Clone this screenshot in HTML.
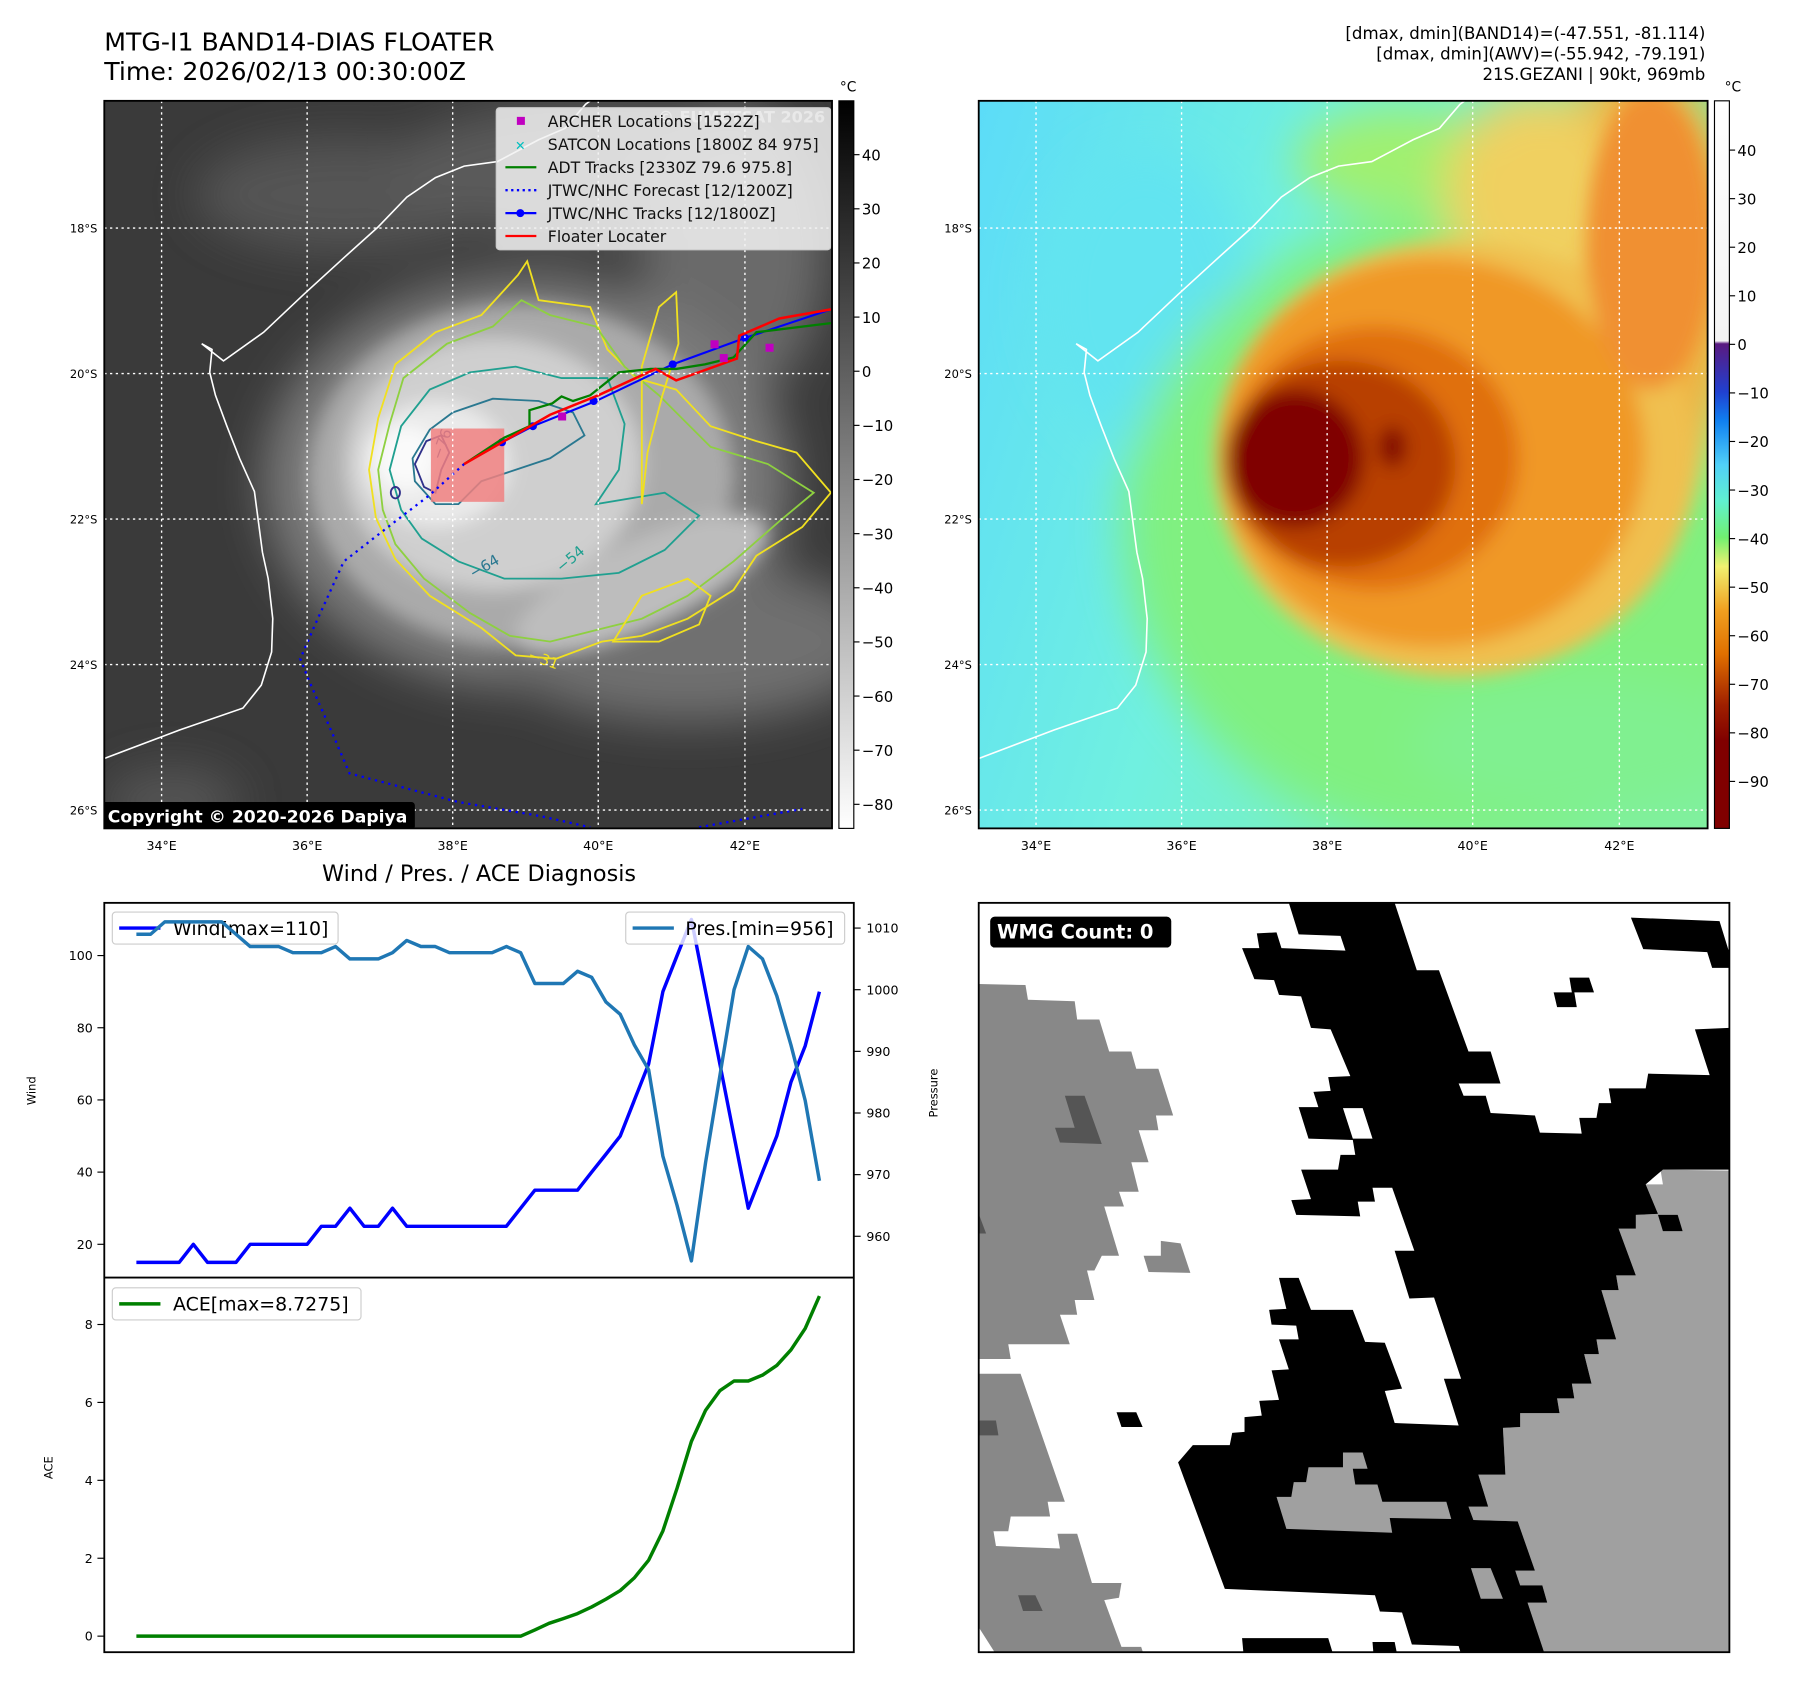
<!DOCTYPE html>
<html><head><meta charset="utf-8"><style>
html,body{margin:0;padding:0;background:#fff;}
svg{display:block;font-family:"DejaVu Sans","Liberation Sans",sans-serif;}
</style></head><body>
<svg id="fig" width="1797" height="1690" viewBox="0 0 1568 1475" preserveAspectRatio="none" xmlns="http://www.w3.org/2000/svg">
<defs>
<filter id="b8" x="-50%" y="-50%" width="200%" height="200%"><feGaussianBlur stdDeviation="8"/></filter>
<filter id="b20" x="-50%" y="-50%" width="200%" height="200%"><feGaussianBlur stdDeviation="20"/></filter>
<clipPath id="clipL"><rect x="91" y="88" width="635" height="635"/></clipPath>
<clipPath id="clipR"><rect x="854" y="88" width="636" height="635"/></clipPath>
<clipPath id="clipB"><rect x="854" y="788" width="655" height="654"/></clipPath>
<linearGradient id="cbGray" x1="0" y1="0" x2="0" y2="1"><stop offset="0" stop-color="#000"/><stop offset="1" stop-color="#fff"/></linearGradient>
<linearGradient id="cbJet" x1="0" y1="0" x2="0" y2="1">
<stop offset="0" stop-color="#ffffff"/><stop offset="0.33" stop-color="#f4f4f4"/>
<stop offset="0.334" stop-color="#5a1a80"/><stop offset="0.40" stop-color="#2040d0"/>
<stop offset="0.44" stop-color="#1080f0"/><stop offset="0.50" stop-color="#50d0f8"/>
<stop offset="0.55" stop-color="#60f0d0"/><stop offset="0.60" stop-color="#70f070"/>
<stop offset="0.64" stop-color="#f0f070"/><stop offset="0.70" stop-color="#f0a020"/>
<stop offset="0.76" stop-color="#e07000"/><stop offset="0.83" stop-color="#a02000"/>
<stop offset="0.88" stop-color="#800000"/><stop offset="1" stop-color="#800000"/></linearGradient>
<linearGradient id="bgR" x1="0" y1="0" x2="1" y2="0.3"><stop offset="0" stop-color="#5cdcf8"/><stop offset="0.45" stop-color="#70f0e0"/><stop offset="1" stop-color="#80f0a0"/></linearGradient>
<path id="coast" d="M91,662 L157,637 L212,618 L228,598 L237,569 L238,540 L234,505 L229,482 L222,429 L209,400 L198,372 L188,345 L183,325 L185,305 L176,300 L195,315 L230,290 L265,257 L300,225 L330,198 L355,172 L380,155 L405,145 L434,141 L470,122 L493,112 L511,91 L515,88" fill="none" stroke="#fff" stroke-width="1.4"/>
</defs>

<text x="91" y="44" font-size="22">MTG-I1 BAND14-DIAS FLOATER</text>
<text x="91" y="70" font-size="22">Time: 2026/02/13 00:30:00Z</text>
<text x="1488" y="34" font-size="14.5" text-anchor="end">[dmax, dmin](BAND14)=(-47.551, -81.114)</text>
<text x="1488" y="52" font-size="14.5" text-anchor="end">[dmax, dmin](AWV)=(-55.942, -79.191)</text>
<text x="1488" y="70" font-size="14.5" text-anchor="end">21S.GEZANI | 90kt, 969mb</text>

<!-- LEFT MAP -->
<g clip-path="url(#clipL)">
<rect x="91" y="88" width="635" height="635" fill="#3a3a3a"/>
<g filter="url(#b20)">
<ellipse cx="300" cy="170" rx="130" ry="50" fill="#555"/>
<ellipse cx="520" cy="150" rx="180" ry="60" fill="#5a5a5a"/>
<ellipse cx="640" cy="220" rx="80" ry="130" fill="#6a6a6a"/>
<ellipse cx="460" cy="420" rx="230" ry="180" fill="#7a7a7a"/>
<ellipse cx="600" cy="560" rx="170" ry="70" fill="#707070"/>
<ellipse cx="150" cy="700" rx="60" ry="30" fill="#555"/>
</g>
<g filter="url(#b8)">
<ellipse cx="455" cy="415" rx="185" ry="150" fill="#aaaaaa"/>
<ellipse cx="430" cy="405" rx="130" ry="110" fill="#cfcfcf"/>
<ellipse cx="380" cy="405" rx="65" ry="55" fill="#eaeaea"/>
<ellipse cx="355" cy="400" rx="28" ry="28" fill="#fafafa"/>
<ellipse cx="560" cy="510" rx="120" ry="38" fill="#bdbdbd" transform="rotate(-25 560 510)"/>
</g>
<g fill="none" stroke-width="1.6">
<path d="M322,410 L330,365 L345,318 L380,290 L420,275 L452,240 L460,228 L470,262 L515,268 L530,305 L555,330 L590,340 L620,372 L660,385 L695,395 L725,430 L700,460 L660,485 L640,515 L600,540 L560,555 L525,560 L485,575 L450,572 L420,548 L375,520 L345,488 L328,452 Z" stroke="#f0e020"/>
<path d="M330,410 L340,370 L352,330 L390,300 L430,285 L455,262 L480,275 L520,285 L545,320 L575,345 L620,390 L670,405 L710,430 L680,455 L640,490 L600,520 L560,540 L520,550 L480,560 L445,555 L410,535 L370,505 L345,475 L334,445 Z" stroke="#8ed040"/>
<path d="M340,410 L350,372 L375,340 L410,325 L450,320 L490,330 L530,330 L545,370 L540,410 L520,440 L580,430 L610,450 L580,480 L540,500 L490,505 L440,505 L400,490 L368,470 L350,445 Z" stroke="#20a090"/>
<path d="M360,400 L375,375 L395,360 L430,348 L470,350 L500,360 L510,380 L480,400 L450,410 L420,420 L400,440 L380,440 L362,420 Z" stroke="#2a7890"/>
<path d="M362,405 L372,385 L385,380 L392,395 L385,410 L380,430 L370,425 Z" stroke="#30308a"/>
<ellipse cx="345" cy="430" rx="4" ry="5" stroke="#30308a"/>
<path d="M560,320 L575,268 L590,255 L592,300 L578,345 L565,395 L560,440 Z" stroke="#f0e020"/>
<path d="M535,560 L560,520 L600,505 L620,520 L610,545 L575,560 Z" stroke="#f0e020"/>
</g>
<text x="385" y="402" font-size="13" fill="#2a4090" transform="rotate(-70 385 402)">−76</text>
<text x="413" y="505" font-size="13" fill="#2a7890" transform="rotate(-30 413 505)">−64</text>
<text x="490" y="500" font-size="13" fill="#20a090" transform="rotate(-40 490 500)">−54</text>
<text x="460" y="575" font-size="13" fill="#f0e020" transform="rotate(20 460 575)">−31</text>
<rect x="376" y="374" width="64" height="64" fill="#f08080" opacity="0.85"/>
<path d="M405,405 L375,432 L345,455 L300,490 L275,545 L262,575 L270,595 L290,640 L305,675 L400,700 L470,712 L515,722 M610,722 L700,706" fill="none" stroke="#0000ff" stroke-width="2" stroke-dasharray="2,4"/>
<path d="M405,405 L440,385 L465,372 L520,350 L587,318 L650,295 L725,270" fill="none" stroke="#0000ff" stroke-width="1.8"/>
<g fill="#0000ff"><circle cx="438" cy="386" r="3.5"/><circle cx="465" cy="372" r="3.5"/><circle cx="518" cy="350" r="3.5"/><circle cx="587" cy="318" r="3.5"/><circle cx="650" cy="295" r="3.5"/></g>
<path d="M405,405 L440,382 L462,372 L462,358 L482,352 L490,346 L500,350 L515,345 L540,325 L568,322 L590,322 L615,318 L640,312 L660,290 L725,282" fill="none" stroke="#008000" stroke-width="2"/>
<path d="M405,405 L480,362 L522,345 L572,322 L590,332 L643,313 L645,293 L680,278 L725,270" fill="none" stroke="#ff0000" stroke-width="2.2"/>
<g fill="#c000c0"><rect x="620" y="297" width="7" height="7"/><rect x="628" y="309" width="7" height="7"/><rect x="668" y="300" width="7" height="7"/><rect x="487" y="360" width="7" height="7"/></g>
<use href="#coast"/>
<g stroke="#fff" stroke-width="1.2" stroke-dasharray="2,3">
<line x1="141" y1="88" x2="141" y2="723"/><line x1="268" y1="88" x2="268" y2="723"/><line x1="395" y1="88" x2="395" y2="723"/><line x1="522" y1="88" x2="522" y2="723"/><line x1="650" y1="88" x2="650" y2="723"/>
<line x1="91" y1="199" x2="726" y2="199"/><line x1="91" y1="326" x2="726" y2="326"/><line x1="91" y1="453" x2="726" y2="453"/><line x1="91" y1="580" x2="726" y2="580"/><line x1="91" y1="707" x2="726" y2="707"/>
</g>
<text x="720" y="107" font-size="14" font-weight="bold" fill="#fff" fill-opacity="0.6" text-anchor="end">© EUMETSAT 2026</text>
<g>
<rect x="433" y="94" width="292" height="124" rx="3" fill="#f2f2f2" fill-opacity="0.85" stroke="#ccc"/>
<rect x="451" y="102" width="7" height="7" fill="#c000c0"/>
<text x="454" y="131" font-size="11" fill="#00c0c0" text-anchor="middle" font-weight="bold">✕</text>
<line x1="441" y1="146" x2="468" y2="146" stroke="#008000" stroke-width="2"/>
<line x1="441" y1="166" x2="468" y2="166" stroke="#0000ff" stroke-width="2" stroke-dasharray="2,3"/>
<line x1="441" y1="186" x2="468" y2="186" stroke="#0000ff" stroke-width="2"/><circle cx="454" cy="186" r="3.5" fill="#0000ff"/>
<line x1="441" y1="206" x2="468" y2="206" stroke="#ff0000" stroke-width="2"/>
<g font-size="13.7" fill="#111">
<text x="478" y="111">ARCHER Locations [1522Z]</text>
<text x="478" y="131">SATCON Locations [1800Z 84 975]</text>
<text x="478" y="151">ADT Tracks [2330Z 79.6 975.8]</text>
<text x="478" y="171">JTWC/NHC Forecast [12/1200Z]</text>
<text x="478" y="191">JTWC/NHC Tracks [12/1800Z]</text>
<text x="478" y="211">Floater Locater</text>
</g></g>
<rect x="89" y="700" width="273" height="24" rx="3" fill="#000"/>
<text x="94" y="718" font-size="15" font-weight="bold" fill="#fff">Copyright © 2020-2026 Dapiya</text>
</g>
<rect x="91" y="88" width="635" height="635" fill="none" stroke="#000" stroke-width="1.6"/>
<g font-size="10" text-anchor="end">
<text x="85" y="203">18°S</text><text x="85" y="330">20°S</text><text x="85" y="457">22°S</text><text x="85" y="584">24°S</text><text x="85" y="711">26°S</text></g>
<g font-size="11" text-anchor="middle">
<text x="141" y="742">34°E</text><text x="268" y="742">36°E</text><text x="395" y="742">38°E</text><text x="522" y="742">40°E</text><text x="650" y="742">42°E</text></g>
<rect x="732" y="88" width="13" height="635" fill="url(#cbGray)" stroke="#000"/>
<text x="740" y="80" font-size="12" text-anchor="middle">°C</text>
<g id="cbLticks" font-size="13"></g>

<!-- RIGHT MAP -->
<g clip-path="url(#clipR)">
<rect x="854" y="88" width="636" height="635" fill="url(#bgR)"/>
<g filter="url(#b20)">
<ellipse cx="1000" cy="260" rx="90" ry="130" fill="#62e4f0"/>
<ellipse cx="1280" cy="460" rx="300" ry="275" fill="#80f080"/>
<ellipse cx="1380" cy="650" rx="150" ry="60" fill="#80f090"/>
<ellipse cx="1220" cy="140" rx="90" ry="45" fill="#a0f070"/>
<ellipse cx="1430" cy="240" rx="90" ry="190" fill="#f0b040"/>
<ellipse cx="1340" cy="170" rx="80" ry="90" fill="#f0d060"/>
</g>
<g filter="url(#b8)">
<ellipse cx="1270" cy="400" rx="210" ry="190" fill="#f0c050"/>
<ellipse cx="1250" cy="395" rx="185" ry="170" fill="#f09828"/>
<ellipse cx="1440" cy="210" rx="55" ry="130" fill="#f09030"/>
<ellipse cx="1200" cy="400" rx="125" ry="115" fill="#e07010"/>
<ellipse cx="1170" cy="405" rx="100" ry="90" fill="#b84000"/>
<ellipse cx="1130" cy="400" rx="60" ry="60" fill="#800000"/>
<ellipse cx="1215" cy="390" rx="12" ry="18" fill="#800000"/>
</g>
<use href="#coast" transform="translate(763,0)"/>
<g stroke="#fff" stroke-width="1.2" stroke-dasharray="2,3">
<line x1="904" y1="88" x2="904" y2="723"/><line x1="1031" y1="88" x2="1031" y2="723"/><line x1="1158" y1="88" x2="1158" y2="723"/><line x1="1285" y1="88" x2="1285" y2="723"/><line x1="1413" y1="88" x2="1413" y2="723"/>
<line x1="854" y1="199" x2="1490" y2="199"/><line x1="854" y1="326" x2="1490" y2="326"/><line x1="854" y1="453" x2="1490" y2="453"/><line x1="854" y1="580" x2="1490" y2="580"/><line x1="854" y1="707" x2="1490" y2="707"/>
</g>
</g>
<rect x="854" y="88" width="636" height="635" fill="none" stroke="#000" stroke-width="1.6"/>
<g font-size="10" text-anchor="end">
<text x="848" y="203">18°S</text><text x="848" y="330">20°S</text><text x="848" y="457">22°S</text><text x="848" y="584">24°S</text><text x="848" y="711">26°S</text></g>
<g font-size="11" text-anchor="middle">
<text x="904" y="742">34°E</text><text x="1031" y="742">36°E</text><text x="1158" y="742">38°E</text><text x="1285" y="742">40°E</text><text x="1413" y="742">42°E</text></g>
<rect x="1496" y="88" width="13" height="635" fill="url(#cbJet)" stroke="#000"/>
<text x="1512" y="80" font-size="12" text-anchor="middle">°C</text>
<g id="cbRticks" font-size="13"></g>

<!-- BOTTOM LEFT CHART -->
<text x="418" y="769" font-size="19.5" text-anchor="middle">Wind / Pres. / ACE Diagnosis</text>
<g>
<rect x="98" y="796" width="197" height="28" rx="3" fill="#fff" fill-opacity="0.8" stroke="#ccc"/>
<line x1="104" y1="810" x2="140" y2="810" stroke="#0000ff" stroke-width="3"/>
<text x="151" y="816" font-size="16.5">Wind[max=110]</text></g>
<g id="chart"></g>
<g>
<rect x="546" y="796" width="191" height="28" rx="3" fill="#fff" fill-opacity="0.8" stroke="#ccc"/>
<line x1="552" y1="810" x2="588" y2="810" stroke="#1f77b4" stroke-width="3"/>
<text x="598" y="816" font-size="16.5">Pres.[min=956]</text></g>
<g>
<rect x="98" y="1124" width="217" height="28" rx="3" fill="#fff" fill-opacity="0.8" stroke="#ccc"/>
<line x1="104" y1="1138" x2="140" y2="1138" stroke="#008000" stroke-width="3"/>
<text x="151" y="1144" font-size="16.5">ACE[max=8.7275]</text></g>
<rect x="91" y="788" width="654" height="654" fill="none" stroke="#000" stroke-width="1.6"/>
<line x1="91" y1="1115" x2="745" y2="1115" stroke="#000" stroke-width="1.6"/>
<text x="31" y="952" font-size="10" text-anchor="middle" transform="rotate(-90 31 952)">Wind</text>
<text x="818" y="954" font-size="10" text-anchor="middle" transform="rotate(-90 818 954)">Pressure</text>
<text x="46" y="1281" font-size="10" text-anchor="middle" transform="rotate(-90 46 1281)">ACE</text>

<!-- BOTTOM RIGHT WMG -->
<g clip-path="url(#clipB)">
<rect x="854" y="788" width="655" height="654" fill="#fff"/>
<g transform="translate(854,788) scale(0.4295) translate(-10,-18)">
<polygon fill="#888" points="10,183 105,185 110,215 205,218 210,255 255,255 275,320 320,320 330,355 375,355 405,450 370,450 375,480 335,480 355,545 320,545 335,605 295,605 305,635 265,635 295,735 260,735 245,765 230,765 245,825 205,825 210,855 175,855 195,915 70,915 75,945 10,945"/>
<polygon fill="#888" points="10,975 95,975 185,1235 150,1235 155,1265 75,1265 70,1295 40,1295 45,1325 175,1330 170,1300 210,1300 240,1400 300,1400 295,1430 265,1435 300,1530 340,1530 345,1545 45,1545 10,1490"/>
<polygon fill="#888" points="345,735 380,735 380,705 420,710 440,770 355,768"/>
<g fill="#555"><polygon points="185,410 225,410 260,508 175,505 165,475 205,475"/><polygon points="10,650 25,690 10,690"/><polygon points="10,1070 45,1070 50,1100 10,1100"/><polygon points="90,1425 125,1425 140,1457 100,1457"/></g>
<polygon fill="#a0a0a0" points="1395,560 1535,562 1535,1545 1160,1545 1125,1440 1165,1440 1155,1405 1110,1405 1100,1375 1140,1375 1105,1275 1015,1272 1005,1245 1045,1245 1025,1180 1080,1180 1075,1085 1110,1083 1110,1055 1190,1055 1185,1025 1220,1025 1215,995 1255,995 1240,935 1270,935 1265,905 1305,905 1275,805 1310,805 1305,775 1345,775 1310,680 1345,680 1345,652 1390,650 1365,590 1400,590"/>
<polygon fill="#000" points="640,18 855,18 900,155 945,155 1005,320 1050,320 1070,385 985,385 995,410 1040,410 1050,445 1140,450 1150,485 1235,487 1230,455 1265,455 1270,425 1295,425 1290,395 1365,395 1370,365 1495,368 1465,275 1535,272 1535,560 1400,560 1365,590 1390,650 1345,652 1345,680 1310,680 1345,775 1305,775 1310,805 1275,805 1305,905 1265,905 1270,935 1240,935 1255,995 1215,995 1220,1025 1185,1025 1190,1055 1110,1055 1110,1083 1075,1085 1080,1180 1025,1180 1045,1245 1005,1245 1015,1272 1105,1275 1140,1375 1100,1375 1110,1405 1155,1405 1165,1440 1125,1440 1160,1545 990,1545 985,1528 890,1525 870,1460 825,1458 815,1425 510,1412 415,1155 445,1120 520,1120 525,1095 550,1093 550,1063 585,1060 580,1030 620,1028 605,968 640,966 620,905 660,905 655,877 605,875 600,845 635,843 620,780 660,780 685,845 770,845 795,910 835,912 870,1005 835,1010 855,1075 985,1080 955,985 990,985 935,820 885,822 855,725 895,725 850,597 810,597 815,625 780,625 785,655 655,652 645,622 685,620 665,560 740,560 745,530 775,530 770,500 680,497 660,433 700,433 690,402 725,400 720,372 765,370 725,275 685,272 665,208 620,205 610,175 570,173 545,110 580,110 575,80 615,78 625,110 755,115 745,85 660,82"/>
<polygon fill="#a0a0a0" points="615,1225 645,1225 650,1195 675,1195 680,1165 750,1165 750,1135 790,1135 800,1168 770,1168 775,1200 820,1200 830,1235 960,1235 970,1270 845,1268 850,1298 635,1290"/>
<polygon fill="#a0a0a0" points="1010,1370 1050,1370 1075,1432 1030,1432"/>
<polygon fill="#fff" points="750,435 790,435 810,497 770,497"/>
<g fill="#000">
<polygon points="1335,48 1515,55 1535,120 1535,150 1500,150 1490,118 1360,112"/>
<polygon points="1210,170 1250,170 1260,200 1220,200 1225,230 1185,230 1178,200 1215,200"/>
<polygon points="290,1053 330,1053 343,1083 300,1083"/>
<polygon points="545,1512 720,1512 730,1545 548,1545"/>
<polygon points="810,1520 855,1520 860,1545 812,1545"/>
<polygon points="1390,652 1430,652 1440,685 1400,685"/>
</g>
</g>
<rect x="864" y="800" width="158" height="27" rx="4" fill="#000"/>
<text x="870" y="819" font-size="17" font-weight="bold" fill="#fff">WMG Count: 0</text>
</g>
<rect x="854" y="788" width="655" height="654" fill="none" stroke="#000" stroke-width="1.6"/>
</svg>
<script>
const NS='http://www.w3.org/2000/svg';
const windValues=[15,15,15,15,20,15,15,15,20,20,20,20,20,25,25,30,25,25,30,25,25,25,25,25,25,25,25,30,35,35,35,35,40,45,50,60,70,90,100,110,90,70,50,30,40,50,65,75,90];
const presValues=[1009,1009,1011,1011,1011,1011,1011,1009,1007,1007,1007,1006,1006,1006,1007,1005,1005,1005,1006,1008,1007,1007,1006,1006,1006,1006,1007,1006,1001,1001,1001,1003,1002,998,996,991,987,973,965,956,972,986,1000,1007,1005,999,991,982,969];
const aceValues=[0,0,0,0,0,0,0,0,0,0,0,0,0,0,0,0,0,0,0,0,0,0,0,0,0,0,0,0,0.16,0.33,0.45,0.58,0.75,0.95,1.17,1.5,1.95,2.7,3.8,5.0,5.8,6.3,6.55,6.55,6.7,6.95,7.35,7.9,8.73];
const windTicks=[20,40,60,80,100];
const presTicks=[960,970,980,990,1000,1010];
const aceTicks=[0,2,4,6,8];
const irTicks=[40,30,20,10,0,-10,-20,-30,-40,-50,-60,-70,-80];
const awvTicks=[40,30,20,10,0,-10,-20,-30,-40,-50,-60,-70,-80,-90];
function xIdx(i,n){return 119+(715-119)*i/(n-1);}
function yWind(v){return 834+(100-v)*(1086-834)/80;}
function yPres(p){return 810+(1010-p)*(1079-810)/50;}
function yAce(a){return 1428-a*(1428-1156)/8;}
function yIR(t){return 135+(40-t)*(702-135)/120;}
function yAWV(t){return 131+(40-t)*(682-131)/130;}
const chart=document.getElementById('chart');
function mk(tag,attrs,parent){const e=document.createElementNS(NS,tag);for(const k in attrs)e.setAttribute(k,attrs[k]);parent.appendChild(e);return e;}
function line(vals,yf,color,name){
 const pts=vals.map((v,i)=>xIdx(i,vals.length).toFixed(1)+','+yf(v).toFixed(1)).join(' ');
 const p=mk('polyline',{points:pts,fill:'none',stroke:color,'stroke-width':3,'stroke-linejoin':'round'},chart);
 
 
}
line(windValues,yWind,'#0000ff','wind-line');
line(presValues,yPres,'#1f77b4','pressure-line');
line(aceValues,yAce,'#008000','ace-line');
windTicks.forEach(t=>{const y=yWind(t);mk('line',{x1:85,x2:91,y1:y,y2:y,stroke:'#000'},chart);const tx=mk('text',{x:81,y:y+4,'font-size':11,'text-anchor':'end'},chart);tx.textContent=t;
 
 });
presTicks.forEach(t=>{const y=yPres(t);mk('line',{x1:745,x2:751,y1:y,y2:y,stroke:'#000'},chart);const tx=mk('text',{x:756,y:y+4,'font-size':11},chart);tx.textContent=t;
 
 });
aceTicks.forEach(t=>{const y=yAce(t);mk('line',{x1:85,x2:91,y1:y,y2:y,stroke:'#000'},chart);const tx=mk('text',{x:81,y:y+4,'font-size':11,'text-anchor':'end'},chart);tx.textContent=t;
 
 });
const cbL=document.getElementById('cbLticks');
irTicks.forEach(t=>{const y=yIR(t);mk('line',{x1:745,x2:750,y1:y,y2:y,stroke:'#000'},cbL);const tx=mk('text',{x:752,y:y+5},cbL);tx.textContent=(t<0?'−':'')+Math.abs(t);
 
 });
const cbR=document.getElementById('cbRticks');
awvTicks.forEach(t=>{const y=yAWV(t);mk('line',{x1:1509,x2:1514,y1:y,y2:y,stroke:'#000'},cbR);const tx=mk('text',{x:1516,y:y+5},cbR);tx.textContent=(t<0?'−':'')+Math.abs(t);
 
 });
</script>
</body></html>
